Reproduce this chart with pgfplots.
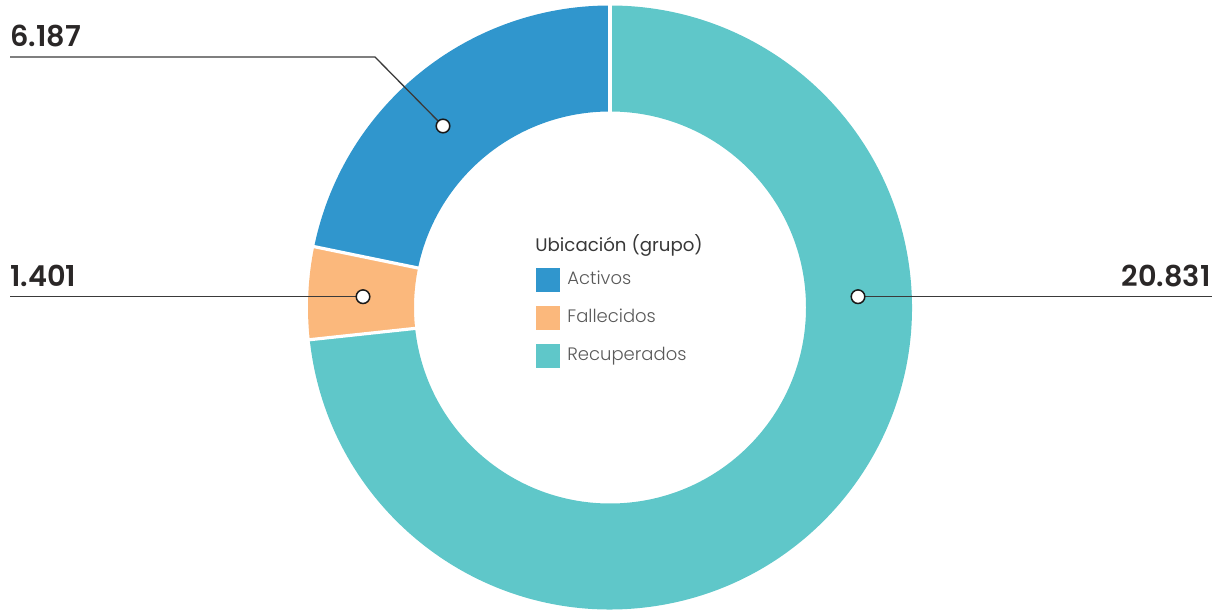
\documentclass[border=0pt]{standalone}
\usepackage{fontspec}
\setmainfont{Poppins}
\newfontfamily\numfont{Poppins SemiBold}
\newfontfamily\lightfont{Poppins Light}
\usepackage{pgfplots}
\pgfplotsset{compat=1.18}
\usepackage{pgfplotstable}
\definecolor{activos}{HTML}{3096CD}
\definecolor{fallecidos}{HTML}{FBB87C}
\definecolor{recuperados}{HTML}{5FC7C9}
\definecolor{numcol}{HTML}{2A2727}
\definecolor{leader}{HTML}{3A3A3A}

\pgfplotstableread{
cat value
Activos 6187
Fallecidos 1401
Recuperados 20831
}\datatable

\newcommand\donutslice[3]{%
  \fill[#1] (axis cs:610,303.5) ++(#2:151pt) arc[start angle=#2, end angle=#3, radius=151pt]
    -- ++(#3+180:53pt) arc[start angle=#3, end angle=#2, radius=98pt] -- cycle;}
\newcommand\sep[1]{%
  \draw[white, line width=1.6pt] (axis cs:610,303.5) ++(#1:96pt) -- ++(#1:57pt);}

\begin{document}
\begin{tikzpicture}
\pgfplotstablegetelem{0}{value}\of\datatable \let\vA\pgfplotsretval
\pgfplotstablegetelem{1}{value}\of\datatable \let\vF\pgfplotsretval
\pgfplotstablegetelem{2}{value}\of\datatable \let\vR\pgfplotsretval
\edef\aB{\fpeval{round(90+360*\vA/(\vA+\vF+\vR),4)}}
\edef\aC{\fpeval{round(90+360*(\vA+\vF)/(\vA+\vF+\vR),4)}}
\begin{axis}[
  scale only axis, width=610pt, height=305.5pt,
  xmin=0, xmax=1220, ymin=0, ymax=611,
  hide axis, clip=false,
]
\donutslice{activos}{90}{\aB}
\donutslice{fallecidos}{\aB}{\aC}
\donutslice{recuperados}{\aC}{450}
\sep{90}\sep{\aB}\sep{\aC}

% leader lines
\addplot[leader, line width=0.65pt, mark=none] coordinates {(10,554) (375,554) (443,485)};
\addplot[leader, line width=0.65pt, mark=none] coordinates {(10,314.3) (363,314.3)};
\addplot[leader, line width=0.65pt, mark=none] coordinates {(858,314.3) (1212,314.3)};
\addplot[only marks, mark=*, mark size=3.4pt, mark options={fill=white, draw=black!90, line width=0.75pt}]
  coordinates {(443,485) (363,314.3) (858,314.3)};

% value labels
\node[anchor=base west, inner sep=0pt, text=numcol, font=\numfont\fontsize{14.4}{18}\selectfont] at (axis cs:10,564) {6.187};
\node[anchor=base west, inner sep=0pt, text=numcol, font=\numfont\fontsize{14.4}{18}\selectfont] at (axis cs:10,324) {1.401};
\node[anchor=base east, inner sep=0pt, text=numcol, font=\numfont\fontsize{14.4}{18}\selectfont] at (axis cs:1211,324) {20.831};

% legend
\node[anchor=base west, inner sep=0pt, text=black!78, font=\fontsize{9.1}{11}\selectfont] at (axis cs:535,359) {Ubicación (grupo)};
\fill[activos] (axis cs:536,319) rectangle (axis cs:560,343);
\fill[fallecidos] (axis cs:536,281) rectangle (axis cs:560,305);
\fill[recuperados] (axis cs:536,243) rectangle (axis cs:560,267);
\node[anchor=base west, inner sep=0pt, text=black!65, font=\lightfont\fontsize{9}{11}\selectfont] at (axis cs:567,326) {Activos};
\node[anchor=base west, inner sep=0pt, text=black!65, font=\lightfont\fontsize{9}{11}\selectfont] at (axis cs:567,288) {Fallecidos};
\node[anchor=base west, inner sep=0pt, text=black!65, font=\lightfont\fontsize{9}{11}\selectfont] at (axis cs:567,250) {Recuperados};
\end{axis}
\pgfresetboundingbox
\path (current axis.south west) rectangle (current axis.north east);
\end{tikzpicture}
\end{document}
